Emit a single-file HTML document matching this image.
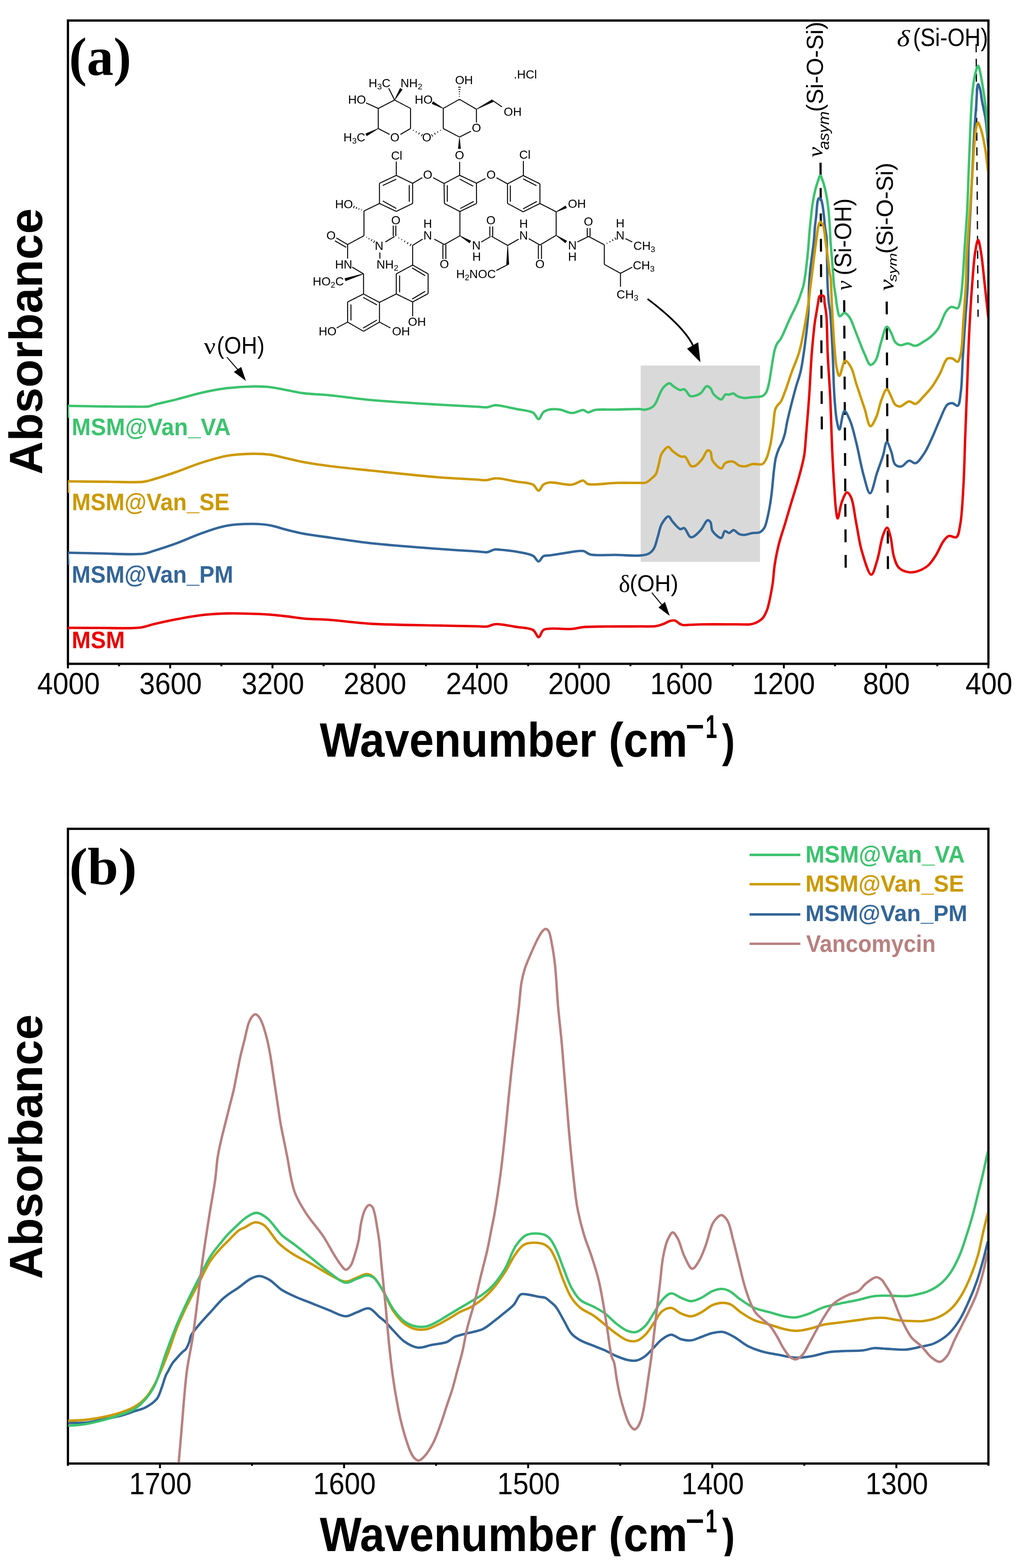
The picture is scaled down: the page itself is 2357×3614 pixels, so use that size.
<!DOCTYPE html>
<html><head><meta charset="utf-8"><title>FTIR spectra</title>
<style>html,body{margin:0;padding:0;background:#fff;}svg{display:block;}</style>
</head><body>
<svg xmlns="http://www.w3.org/2000/svg" width="2357" height="3614" viewBox="0 0 2357 3614">
<rect width="100%" height="100%" fill="#fff"/>
<rect x="1476.2" y="842.5" width="275" height="452.5" fill="#d9d9d9"/>
<clipPath id="ca"><rect x="156.3" y="50" width="2118.9" height="1477"/></clipPath>
<clipPath id="cb"><rect x="156.3" y="1913" width="2118.9" height="1457.5"/></clipPath>
<g stroke="#000" fill="none">
<path d="M1890.5 375 L1893.5 992" stroke-width="5" stroke-dasharray="29.5 29"/>
<path d="M1945 692 L1948.5 1311" stroke-width="5" stroke-dasharray="29.5 29.2"/>
<path d="M2043 695 L2045.8 1312" stroke-width="5" stroke-dasharray="29.5 29.2"/>
<path d="M2249 101.5 L2253.5 730" stroke-width="2.8" stroke-dasharray="19 15"/>
</g>
<rect x="156.5" y="47.3" width="2120.8" height="1482.7" fill="none" stroke="#000" stroke-width="5.2"/>
<path d="M156.5 1530 L156.5 1540.5M392.1 1530 L392.1 1540.5M627.8 1530 L627.8 1540.5M863.4 1530 L863.4 1540.5M1099.1 1530 L1099.1 1540.5M1334.7 1530 L1334.7 1540.5M1570.4 1530 L1570.4 1540.5M1806 1530 L1806 1540.5M2041.7 1530 L2041.7 1540.5M2277.3 1530 L2277.3 1540.5M274.3 1530 L274.3 1535.5M510 1530 L510 1535.5M745.6 1530 L745.6 1535.5M981.3 1530 L981.3 1535.5M1216.9 1530 L1216.9 1535.5M1452.5 1530 L1452.5 1535.5M1688.2 1530 L1688.2 1535.5M1923.8 1530 L1923.8 1535.5M2159.5 1530 L2159.5 1535.5" stroke="#000" stroke-width="4.5"/>
<g fill="none" stroke-width="5.6" stroke-linejoin="round" clip-path="url(#ca)">
<path d="M157 1451C157.1 1449.7 156.7 1447.6 157.3 1447C157.8 1446.5 158.5 1447 160 1447C167.6 1447 203.9 1447.4 228.6 1447.3C257.6 1447.2 300.1 1449.4 323 1446.5C336.4 1444.8 342.6 1441.3 354.4 1438.6C369.3 1435.1 387.8 1431 405.5 1427.6C424.4 1424 444.8 1420.1 464.5 1417.8C484.1 1415.5 503.7 1414.4 523.4 1413.9C543 1413.4 564.7 1414.2 582.4 1414.7C596.8 1415.1 608.6 1415.6 621.7 1416.6C634.8 1417.6 647.9 1419.1 661 1420.6C674.1 1422.1 685.8 1424.4 700.3 1425.7C718.1 1427.3 737.9 1427.2 760 1428.8C787.8 1430.8 818.7 1435.5 854 1437.6C899.2 1440.3 964.2 1440.7 1009 1441.7C1043.3 1442.5 1080 1443.1 1100 1443.5C1109.8 1443.7 1115.1 1444.9 1122 1444C1128.4 1443.2 1134.6 1439.4 1140 1438.7C1144.4 1438.1 1146.9 1438.5 1152 1439C1161.1 1439.8 1177.3 1442.8 1190 1445C1202.7 1447.2 1219.2 1446.7 1228 1452C1234.5 1455.9 1237 1468.8 1241 1468.6C1244.9 1468.4 1247.2 1455.2 1252 1452C1256.2 1449.2 1260.5 1449.6 1267 1449C1278.9 1447.9 1303.9 1450.5 1318 1449.5C1328.1 1448.8 1333.7 1446.3 1344 1445.4C1359.1 1444 1380.1 1444.3 1400 1444C1422.7 1443.7 1452.5 1444 1473 1443.8C1488 1443.6 1501.8 1444.6 1512 1443C1518.9 1441.9 1523.5 1440 1528.9 1438C1534.2 1436 1540.1 1432.2 1544.3 1431C1546.9 1430.2 1548.9 1430.1 1551 1430C1552.8 1430 1554.2 1429.8 1556 1430.5C1558.7 1431.5 1562 1435.3 1565 1437C1567.6 1438.5 1569.5 1439.9 1572.7 1440.5C1577.4 1441.4 1584 1440.2 1590.7 1440C1599.3 1439.7 1607.8 1439.2 1620 1439C1640.1 1438.7 1680 1439 1700 1439C1712 1439 1720.9 1440.1 1728.8 1438.9C1734.4 1438.1 1738.4 1436.9 1743 1434.7C1747.9 1432.3 1753.3 1429.1 1757.2 1424.7C1761.5 1419.9 1764.5 1412.8 1767.1 1406.3C1769.8 1399.6 1771.1 1392.1 1772.8 1385C1774.4 1378 1775.7 1370.9 1777 1363.8C1778.3 1356.7 1779.5 1350.8 1780.6 1342.5C1782.2 1331 1782.8 1315.5 1785 1301.3C1787.4 1285.8 1790.8 1268.7 1794.8 1253C1798.6 1237.8 1803.7 1223.9 1808.3 1208.5C1813.3 1191.8 1818.5 1174.2 1823.8 1156.3C1829.4 1137.5 1836.2 1116.8 1841.2 1098.3C1845.7 1081.5 1850.2 1065.5 1852.8 1050C1855.2 1035.9 1855.3 1025.8 1856.7 1009.3C1858.9 983.9 1862.1 944.8 1864.4 912.6C1866.6 880.4 1867.8 846.4 1870.2 816C1872.4 788.8 1876 753.1 1878 738.7C1878.8 733.1 1879.2 731.8 1880 727C1881.3 719.5 1883.4 706.1 1884.9 698C1886 692.2 1885.9 685.6 1888 683C1889.3 681.5 1891.3 681 1893 681C1894.7 681 1896.8 681.5 1898 683C1900 685.6 1899 692.2 1899.8 698C1900.9 706.1 1902.9 714.7 1904 727C1905.9 748.5 1905.6 785.7 1907 816C1908.5 847.5 1911 878.2 1912.7 912.6C1914.6 952.1 1915.7 1001.5 1917.5 1040C1919 1071.8 1920.7 1102.5 1922.4 1127.3C1923.6 1145.8 1924.5 1163.2 1926.2 1175.7C1927.3 1183.6 1928.3 1195 1930 1195C1932.4 1195.1 1935.6 1167.1 1939.8 1156.3C1943.1 1147.9 1947.4 1135.4 1951.4 1135C1954.5 1134.7 1958.2 1140.8 1961 1146.7C1966.5 1158.3 1968.6 1184.6 1972.6 1204.7C1976.9 1226.4 1979.9 1251.5 1986.2 1272.3C1991.9 1291.1 2001.1 1324.5 2007.4 1324.5C2012.4 1324.5 2016.9 1304.3 2021 1291.6C2026.3 1275.2 2029.4 1247 2034.5 1233.6C2037.5 1225.8 2041.2 1216 2044 1216.2C2047.1 1216.4 2049.7 1229.5 2052 1238.2C2055.2 1250.3 2055.6 1269.8 2059.4 1282.4C2062.5 1292.6 2065 1302.7 2071.2 1308.8C2077 1314.6 2087 1317.9 2094.7 1319C2101.7 1320 2108.4 1318.5 2115.3 1316.2C2123.1 1313.6 2132 1308.9 2138.8 1303C2145.9 1296.8 2150.9 1288.1 2156.5 1279.4C2162.7 1269.7 2168.1 1254.8 2174 1247C2178 1241.7 2181.1 1236.8 2185.9 1235.3C2190.9 1233.7 2199.2 1240.9 2203.5 1238.2C2209.2 1234.7 2210 1221.4 2212.4 1208.8C2216.5 1187.4 2217.8 1152.1 2219.7 1120.6C2221.9 1084.2 2222.5 1042.2 2224 1003C2225.5 963.8 2227 924.5 2228.5 885.3C2230 846.1 2231 806.8 2233 767.6C2235 728.4 2237.6 684.1 2240.3 650C2242.4 623.6 2244 597.8 2247 580C2248.9 568.8 2251.3 553 2253.5 553C2255.7 553 2258 568.8 2260 580C2263.2 597.8 2265.5 625.7 2268.2 650C2271.1 676.2 2274.1 704.7 2277 732" stroke="#ea0000"/>
<path d="M157 1302C157.1 1292.7 155.1 1276.2 157.3 1274C158 1273.3 158.5 1274 160 1274C167.6 1274.1 203.5 1275.1 228.6 1275.5C259.3 1276 308.8 1279.3 330.8 1276.3C341.6 1274.8 345.1 1272.5 354.4 1269.6C368.2 1265.4 388 1259.1 405.5 1252.7C424.6 1245.7 444.7 1236 464.5 1229.1C484 1222.3 503.6 1215 523.4 1211.4C542.9 1207.9 564.7 1207.4 582.4 1207.5C596.8 1207.6 608.7 1208.4 621.7 1210.7C634.9 1213 647.9 1218 661 1221.3C674.1 1224.6 685.8 1227.6 700.3 1230.3C718.1 1233.6 737.8 1235.9 760 1239C787.8 1242.9 818.7 1248.1 854 1252C899.2 1257 964.2 1261.6 1009 1265C1043.3 1267.6 1080 1269.6 1100 1271C1109.8 1271.7 1115.1 1273.6 1122 1272.7C1128.4 1271.9 1134.5 1267.3 1140 1266.5C1144.3 1265.9 1146.9 1266.6 1152 1267C1161.1 1267.7 1177.4 1269.3 1190 1271.6C1202.7 1273.9 1219.1 1276 1228 1281C1234.1 1284.4 1236.9 1294.1 1241 1294C1244.9 1293.9 1247.6 1284.3 1252 1282C1256.3 1279.8 1261 1280.8 1267 1280C1275.9 1278.7 1288.2 1276.6 1300 1275C1313.6 1273.2 1333.2 1268.1 1344 1270C1350.9 1271.2 1352.7 1276.2 1360 1278C1373.4 1281.3 1400.5 1278.6 1420 1279C1438.7 1279.4 1461.1 1281.7 1474.8 1280.4C1483.2 1279.6 1489.6 1278.9 1495 1275.9C1499.8 1273.3 1503.3 1269.7 1506.4 1264.6C1510.6 1257.9 1512.5 1246.7 1515.4 1237.5C1518.5 1227.9 1519.8 1216.4 1524.4 1208.2C1528.4 1201 1535.8 1190.1 1540.2 1190.2C1543.6 1190.3 1545.4 1197.3 1549 1201.4C1553.9 1206.9 1561.9 1218 1567.3 1219.5C1570.5 1220.4 1573.4 1216.1 1576.3 1217.2C1581.1 1219 1585.6 1235.2 1590 1237.5C1592.3 1238.7 1594.1 1238.5 1596.6 1237.5C1601.4 1235.7 1609.1 1227.8 1614.6 1221.7C1620.5 1215.2 1625.9 1200 1630.4 1199.2C1632.8 1198.8 1635.3 1201.2 1637 1203.7C1639.8 1207.8 1638 1218.2 1641.7 1224C1645.8 1230.5 1657.2 1240.9 1662 1239.8C1666 1238.9 1666.5 1225.3 1670 1224C1672.8 1223 1676.7 1228.8 1680 1228.5C1683.4 1228.2 1686.5 1221.7 1690 1221.7C1694 1221.8 1698.3 1228.9 1702.6 1230.8C1706.3 1232.4 1709.7 1233.1 1714 1233C1719.7 1232.9 1727.7 1229.5 1734 1228.5C1739.6 1227.6 1745.4 1229.1 1750 1227C1754.4 1225 1758.2 1221 1761.1 1216.4C1764.6 1210.7 1766 1202.1 1768 1194.2C1770.2 1185.5 1772 1175.7 1773.6 1166.4C1775.2 1157.2 1776.5 1147.9 1777.7 1138.7C1778.8 1129.5 1779.6 1120.2 1780.5 1111C1781.4 1101.7 1782.2 1092.4 1783.3 1083.2C1784.5 1073.9 1785.4 1064 1787.4 1055.5C1789.2 1048 1791.8 1040.9 1794.4 1034.7C1796.5 1029.5 1799.2 1026 1801.3 1020.8C1803.9 1014.6 1806.3 1007.6 1808.3 1000C1810.6 991.1 1811.3 982.7 1814 970.6C1818.4 950.9 1827.7 914.6 1833.5 893.3C1837.7 878.1 1841.6 869.8 1845 854.6C1849.7 833.4 1853.7 801.3 1856.7 777.3C1859.3 756.5 1861.3 738.5 1862.5 719C1863.7 699.4 1863.2 676.7 1864 660C1864.6 647.7 1865.2 639 1866.2 628C1867.3 616.3 1869 604 1870.5 592C1872 580 1873.9 567.6 1875.1 556C1876.2 545.3 1876.5 535 1877.4 525C1878.3 515.7 1879.6 507 1880.5 498C1881.4 489 1882 477.6 1882.8 471C1883.3 467.2 1883.4 464.5 1884.2 462C1884.8 460 1885.4 457.7 1886.5 457C1887.3 456.5 1888.6 456.5 1889.5 457C1890.6 457.6 1891.5 459.3 1892.3 461C1893.4 463.5 1894 466.8 1894.8 471C1896.1 477.8 1897.4 489 1898.4 498C1899.4 507 1899.9 516.5 1901 525C1902 532.7 1903.6 538 1904.4 547C1905.6 560.8 1905.2 582.6 1905.6 600C1905.9 616.9 1905.8 633.3 1906.5 650C1907.2 666.7 1908.4 687.2 1909.8 700C1910.7 708 1911.8 710.4 1912.7 719.3C1914.8 739.2 1916.9 783.8 1918.5 816C1920.1 848.2 1920.4 884.5 1922.4 912.6C1923.9 934.4 1925.4 956.5 1928.2 970.6C1929.8 978.9 1931.8 990 1934 990C1937.3 990 1940.7 948 1945.6 947.4C1949.4 946.9 1955 961.2 1959 970.6C1964.4 983.5 1968 1000.9 1972.6 1019C1978.3 1041.7 1983.8 1074.8 1990 1096.3C1994.6 1112.2 1999.6 1137 2004.5 1137C2009.9 1137 2015.8 1103.9 2021 1088.7C2025.7 1075.1 2030.7 1062.2 2034.5 1050C2037.9 1039.1 2039.7 1019.3 2043.2 1019C2046.2 1018.8 2050.4 1033 2053.5 1041C2056.9 1050 2057.1 1065.3 2062.4 1070.6C2066.1 1074.3 2072.1 1075.9 2077 1075C2082.9 1074 2088.9 1062.6 2094.7 1061.8C2099.6 1061.1 2104.5 1068.8 2109.4 1067.6C2116.3 1065.9 2123.9 1053.1 2130 1044C2136.8 1033.8 2141.9 1021.1 2147.6 1008.8C2153.7 995.7 2159.2 980.7 2165.3 967.6C2171 955.3 2176.4 937.7 2183 932.4C2186.7 929.4 2190.9 929 2194.7 929.4C2198.7 929.8 2203.5 936.7 2206.5 935.3C2211.3 933 2211.9 916.1 2213.8 903C2216.6 883 2216.6 852.9 2218.2 826.5C2219.9 798.1 2222 767.6 2224 738.2C2226 708.8 2228.8 678.6 2230 650C2231.2 622.9 2230.6 597.8 2231.5 570.6C2232.5 541.9 2234.5 511.5 2236 482C2237.5 452.6 2238.9 423.3 2240.3 394C2241.8 364.7 2243.1 332.4 2244.7 306C2246 284.4 2247.5 266.1 2249 247C2250.4 228.9 2250.9 194.4 2253.5 194C2254.7 193.8 2256.7 200.4 2258 205C2260 211.9 2260.6 221.9 2262.4 232C2264.7 244.9 2268.7 259.9 2271 276C2273.8 295.3 2275 318.7 2277 340" stroke="#336699"/>
<path d="M157 1136C157.1 1127.2 155.1 1111.6 157.3 1109.5C158 1108.8 158.5 1109.5 160 1109.5C168.8 1109.5 219.4 1110.3 248.3 1110.4C276.3 1110.5 311.7 1112.7 330.8 1110.4C341.2 1109.1 345.1 1107.2 354.4 1104.5C368.2 1100.5 387.9 1094.1 405.5 1088C424.5 1081.4 444.7 1072.7 464.5 1066.4C484 1060.2 503.6 1054 523.4 1050.6C542.9 1047.2 564.7 1046.2 582.4 1045.9C596.8 1045.7 608.7 1046.2 621.7 1047.9C634.9 1049.7 647.9 1053.6 661 1056.5C674.1 1059.4 685.8 1062.5 700.3 1065.2C718.1 1068.5 737.8 1071.3 760 1074.2C787.8 1077.8 818.8 1080.8 854 1084.5C899.2 1089.2 964.1 1096.4 1009 1100C1043.3 1102.8 1080.6 1104.3 1100 1105.5C1109.1 1106 1113.4 1107.2 1120 1106.7C1126.7 1106.2 1134.2 1103.1 1140 1102.6C1144.5 1102.2 1146.9 1102.4 1152 1103C1161.1 1104 1177.3 1107.7 1190 1110C1202.7 1112.3 1219.2 1112.1 1228 1117C1234.2 1120.4 1236.9 1131.2 1241 1131C1244.9 1130.8 1247.5 1120.2 1252 1117C1256.3 1114 1260.4 1112.7 1267 1112C1278.9 1110.7 1304 1118.7 1318 1117C1328.3 1115.7 1337.6 1106.7 1344 1107.7C1348.4 1108.4 1348.7 1113.8 1354 1115.5C1366 1119.4 1399.2 1113.4 1420 1113C1438.6 1112.6 1460.7 1113.2 1473 1113C1479.5 1112.9 1483.3 1114 1488 1112.4C1493 1110.6 1498 1105.7 1502 1102.2C1505.5 1099.2 1508.6 1097.1 1511 1093C1514.3 1087.4 1515.5 1078.3 1517.7 1070.6C1520 1062.6 1520.4 1052.7 1524.4 1045.8C1528.1 1039.4 1535.5 1030 1540 1030C1543.4 1030 1545.2 1035.9 1549 1039C1554.3 1043.3 1563.8 1050.9 1569.5 1052.6C1572.9 1053.6 1575.6 1051 1578.5 1052.6C1583.3 1055.3 1587.2 1071.3 1592 1074C1594.9 1075.6 1597.8 1075.2 1601 1074C1605.9 1072.1 1612.2 1065.1 1617 1059.4C1622.1 1053.2 1626.2 1039.2 1630.4 1038C1632.7 1037.4 1635.3 1039.1 1637 1041.3C1639.9 1045 1638.1 1055.5 1641.7 1061.6C1645.8 1068.5 1656.8 1080.3 1662 1079.7C1665.9 1079.3 1666.8 1070 1671 1067.3C1675.6 1064.4 1683.6 1062.8 1689 1063.9C1694.1 1064.9 1697.9 1071.1 1702.6 1072.9C1706.9 1074.6 1711.2 1075.3 1716 1075C1721.6 1074.6 1727.6 1070.5 1734 1069.5C1741.1 1068.4 1751.3 1072.3 1756.7 1069.5C1761.2 1067.2 1763.1 1062.4 1765.7 1057C1769.5 1049.1 1772.3 1037 1774.8 1025.5C1777.8 1011.9 1779.6 994.6 1781.5 980.4C1783.2 967.7 1783.6 952.2 1786 944.3C1787.3 940.2 1788.5 938.2 1790.5 935.3C1792.7 932.1 1796.1 930.3 1798.7 926.2C1802.8 919.8 1806.2 909 1810 899C1814.6 886.9 1818.8 872.4 1823.8 858.5C1829.2 843.5 1836.4 828.3 1841.2 812C1846.2 794.8 1849.3 776.4 1852.8 758C1856.4 739.1 1860 717.6 1862.5 700C1864.6 685.5 1865.7 672.6 1867.3 660C1868.7 648.7 1870 639 1871.4 628C1872.8 616.4 1874.2 604 1875.7 592C1877.2 580 1878.7 568 1880.4 556C1882.1 544 1884 526.9 1885.8 520C1886.5 517.1 1887.1 515.6 1888 514C1888.7 512.8 1889.6 511 1890.4 511C1891.2 511 1892.1 512.8 1893 514C1894.2 515.6 1895.6 517 1896.7 520C1899.2 526.8 1900.4 544 1902.1 556C1903.8 568 1905.5 580 1907.1 592C1908.7 604 1910.2 619.2 1911.5 628C1912.3 633.1 1913.1 634.4 1913.7 640C1915.1 652.3 1915.4 677.6 1916.6 700C1918.1 728.4 1920.1 769.1 1922.4 796.7C1924.1 817.4 1925.2 838.4 1928.2 850.8C1929.8 857.6 1931.6 866.2 1934 866.2C1937.5 866.2 1942.1 832.4 1947.5 831.5C1951.5 830.8 1957.2 840.2 1961 847C1966.2 856.2 1968.2 870 1972.6 883.6C1978.2 900.7 1986.1 924 1992 941.6C1996.9 956.3 2000.2 981.5 2005.5 982.2C2009.5 982.7 2015.1 969.4 2019 961C2023.9 950.3 2026.1 933.7 2030.6 922.3C2034.4 912.8 2039.1 897.1 2043.2 897C2046.7 896.9 2050.3 908.8 2053.5 914.7C2056.7 920.6 2058.4 928.8 2062.4 932.4C2065.6 935.3 2069.7 937.1 2074 936.8C2080 936.3 2088.3 925.4 2094.7 925C2099.9 924.6 2104.6 931.8 2109.4 930.9C2115.4 929.8 2121.1 920.8 2127 914.7C2133.8 907.8 2141.3 899.8 2147.6 891.2C2154.2 882.2 2159.6 872.2 2165.3 861.8C2171.4 850.7 2176.3 830.6 2183 826.5C2186.7 824.2 2190.9 825.4 2194.7 826.5C2198.8 827.7 2203.4 834.8 2206.5 833.8C2210.2 832.5 2211.8 823.4 2213.8 814.7C2217.6 797.9 2217.8 764.6 2219.7 738.2C2221.7 709.9 2224.4 675.3 2225.6 650C2226.5 631 2226.1 619 2227 600C2228.2 574.7 2231 541.2 2233 511.8C2235 482.4 2236.9 452.9 2238.8 423.5C2240.8 394 2242.6 358.7 2244.7 335C2246.1 319 2246.8 304.5 2249 295C2250.3 289.5 2251.9 282.5 2253.5 282.4C2254.9 282.3 2256.6 288.4 2258 292C2259.6 296.2 2260.9 300 2262.4 306C2265.1 316.5 2268.6 334.8 2271 350C2273.5 366.1 2275 383.3 2277 400" stroke="#cc9900"/>
<path d="M156.9 963.5C157 954.2 154.9 937.7 157.2 935.5C157.9 934.8 158.4 935.5 160 935.5C167.7 935.6 205 936.4 228.6 936.7C253.9 937 286.2 937.5 307.2 937.4C321.3 937.3 333.2 938.2 342.6 936.7C349 935.7 351.6 933.8 358.3 932C369.8 928.9 388.9 925.1 405.5 920.9C424.1 916.2 444.8 909.6 464.5 905.2C484.1 900.8 503.7 897 523.4 894.6C543 892.2 564.7 890.9 582.4 890.7C596.8 890.5 608.6 890.8 621.7 892.2C634.9 893.6 647.9 896.9 661 899.3C674.1 901.7 685.8 904.5 700.3 906.4C718.1 908.7 737.8 909 760 911.1C787.9 913.8 819.2 918.8 854.6 922C899.8 926.1 964.3 929.8 1009 932.5C1043.3 934.6 1079.8 936.4 1100 937.5C1110.1 938 1115.7 939.4 1122.7 938.7C1128.9 938 1134.7 934.5 1140 934C1144.3 933.6 1146.9 934.3 1152 935C1161.1 936.3 1177.3 940.1 1190 942.8C1202.7 945.5 1219.2 945.8 1228 951C1234.3 954.7 1237 966.2 1241 966C1245 965.8 1247.4 953.7 1252 950C1256.2 946.6 1261.3 944.9 1267 943.8C1273.7 942.5 1282 942.9 1290 944C1299.1 945.3 1309.3 952 1318.6 952C1327.3 952 1337.5 944.3 1344 945C1348.4 945.5 1350.7 950.2 1354.6 950.5C1359.2 950.8 1363.3 946.2 1370 945C1381.8 942.8 1403.1 944.4 1420 944C1437.4 943.6 1461.3 942.3 1473 942.8C1478.8 943.1 1481.4 944.9 1486 944.3C1491.6 943.6 1499.7 940.8 1504 937.6C1507.3 935.1 1508.6 932.5 1511 928.5C1514.6 922.4 1518.5 910.2 1522 903.7C1524.4 899.1 1525.9 895.8 1529 892.5C1532.5 888.9 1538.5 883.3 1542.5 883.4C1545.8 883.5 1548 887.9 1551.5 890.2C1555.9 893.1 1562.4 898.3 1567 899C1570.3 899.5 1573.6 896.4 1576 897C1578.1 897.5 1579.2 899.6 1581 901.5C1583.7 904.3 1586.6 911.1 1590 912.8C1592.7 914.1 1595.7 913.5 1599 912.8C1603.6 911.8 1609.9 909.5 1614.6 906C1619.7 902.2 1623.6 891.1 1628 890.2C1631 889.6 1634.5 892.2 1637 894.7C1640.1 897.8 1640.4 904.3 1644 908.3C1648.3 913.1 1657.3 921.4 1662 920.7C1665.8 920.1 1667.6 911.1 1671 909.4C1673.7 908.1 1676.9 909.8 1680 909.4C1683.3 909 1687 906.4 1690 907C1693 907.6 1694.7 911.2 1698 912.8C1702.3 914.9 1708.3 916.8 1714 917.3C1720.2 917.9 1727.1 916.2 1734 915.5C1741.3 914.7 1751.2 915.5 1756.7 912.8C1760.8 910.8 1763.3 907.9 1765.7 903.7C1769.1 897.8 1770.6 887.9 1772.5 879C1774.8 868.6 1776 856.7 1778 845C1780.1 832.5 1782.2 816.2 1785 806.3C1786.8 799.9 1788.5 795.3 1791 790.9C1793.2 787.1 1795.9 785.8 1798.7 781.2C1804.2 772.2 1811.4 752.8 1818 738.7C1824.5 724.6 1832.8 709.1 1838 696.6C1842.1 686.8 1845.2 676.8 1847.5 670C1848.9 665.9 1849.7 664.1 1850.7 660C1852.2 653.9 1853.7 645 1854.9 637C1856.2 628.4 1857.2 619.7 1858.3 610C1859.6 598.9 1861 586 1862.1 574C1863.2 562 1863.7 550.3 1864.8 538C1865.9 525 1867.5 510 1868.8 498C1869.9 488.1 1870.6 480 1872 471C1873.4 462 1874.9 453 1877 444C1879.1 434.9 1882.1 424.2 1884.7 417C1886.5 412 1888.2 404.5 1890 404.5C1891.8 404.5 1893.9 411.9 1895.7 417C1898.3 424.2 1900.9 435 1902.8 444C1904.7 453 1906.1 462 1907.3 471C1908.5 480 1909.2 489 1910 498C1910.8 507 1911.4 515.7 1912 525C1912.6 535 1912.8 545.3 1913.5 556C1914.3 567.6 1915.5 580 1916.5 592C1917.4 604 1918.3 616.4 1919.2 628C1920.1 639 1920.7 650 1921.9 660C1922.9 668.9 1924.6 676.9 1925.7 685C1926.8 692.6 1927.1 699.7 1928.6 707C1930.2 714.4 1931.4 727.8 1935 729C1937.7 729.9 1942.1 721.2 1945.6 721.3C1949.4 721.4 1953.4 726.1 1957 731C1962.8 738.9 1967.2 754.6 1972.6 767.7C1978.8 782.7 1985.7 802.7 1992 816C1996.6 825.8 2000.5 840 2005.5 841C2009.1 841.7 2013.6 836.6 2017 831.5C2023 822.6 2025.9 800.8 2030.6 787C2034.7 774.8 2038.6 753.6 2043.2 753C2046.4 752.6 2050.4 762.1 2053.5 767.6C2056.9 773.7 2058.3 783.4 2062.4 788.2C2065.6 791.9 2069.5 794.8 2074 795.6C2079.1 796.5 2085.9 791.6 2091.8 791.8C2097.7 792 2103.6 797.5 2109.4 797C2115.4 796.5 2121 791.8 2127 788.2C2133.8 784.1 2141.6 779 2147.6 773.5C2153.3 768.2 2157.7 763.4 2162.4 756C2168.7 746 2173.8 725.9 2180 717.6C2183.8 712.5 2187.3 708.6 2191.8 707.4C2196.2 706.2 2203.1 712.2 2206.5 710.3C2210.2 708.2 2210.8 700.6 2212.4 694C2214.7 684.6 2215.4 673.2 2216.8 658.8C2219 636.1 2220.7 600 2222.6 570.6C2224.6 541.1 2226.8 513.6 2228.5 482C2230.4 445.7 2231.2 406 2233 364.7C2235 318.4 2236.6 253.1 2240 217.6C2242 197.3 2244 182.1 2247 170C2248.9 162.3 2251.6 151.5 2253.5 151.5C2255.2 151.5 2256.7 159.9 2258 165C2259.7 171.6 2260.8 178.5 2262.4 188C2264.9 203.1 2268.6 226.2 2271 247C2273.6 270 2275 295.7 2277 320" stroke="#3cc36e"/>
</g>
<text transform="translate(85.73 1599.6) scale(0.91 1)" font-family="'Liberation Sans', Arial, sans-serif" font-size="71.25">4000</text>
<text transform="translate(320.89 1599.6) scale(0.91 1)" font-family="'Liberation Sans', Arial, sans-serif" font-size="71.25">3600</text>
<text transform="translate(556.54 1599.6) scale(0.91 1)" font-family="'Liberation Sans', Arial, sans-serif" font-size="71.25">3200</text>
<text transform="translate(791.78 1599.6) scale(0.91 1)" font-family="'Liberation Sans', Arial, sans-serif" font-size="71.25">2800</text>
<text transform="translate(1027.42 1599.6) scale(0.91 1)" font-family="'Liberation Sans', Arial, sans-serif" font-size="71.25">2400</text>
<text transform="translate(1263.07 1599.6) scale(0.91 1)" font-family="'Liberation Sans', Arial, sans-serif" font-size="71.25">2000</text>
<text transform="translate(1497.91 1599.6) scale(0.91 1)" font-family="'Liberation Sans', Arial, sans-serif" font-size="71.25">1600</text>
<text transform="translate(1733.55 1599.6) scale(0.91 1)" font-family="'Liberation Sans', Arial, sans-serif" font-size="71.25">1200</text>
<text transform="translate(1988.16 1599.6) scale(0.91 1)" font-family="'Liberation Sans', Arial, sans-serif" font-size="71.25">800</text>
<text transform="translate(2224.45 1599.6) scale(0.91 1)" font-family="'Liberation Sans', Arial, sans-serif" font-size="71.25">400</text>
<text transform="translate(736.8 1744.1) scale(0.92 1)" font-family="'Liberation Sans', Arial, sans-serif" font-size="110.98" font-weight="bold">Wavenumber (cm</text><text transform="translate(1579.66 1699.18) scale(1.01 1)" font-family="'Liberation Sans', Arial, sans-serif" font-size="72.73" font-weight="bold">−</text><text transform="translate(1625.74 1700.9) scale(0.63 1)" font-family="'Liberation Sans', Arial, sans-serif" font-size="75.49" font-weight="bold">1</text><text transform="translate(1663.48 1744.04) scale(0.85 1)" font-family="'Liberation Sans', Arial, sans-serif" font-size="104.88" font-weight="bold">)</text>
<text transform="translate(96.6 1093.64) rotate(-90) scale(0.99 1)" font-family="'Liberation Sans', Arial, sans-serif" font-size="107.2" font-weight="bold">Absorbance</text>
<text transform="translate(158.95 173.39) scale(0.99 1)" font-family="'Liberation Serif', 'Times New Roman', serif" font-size="124.3" font-weight="bold">(a)</text>
<text transform="translate(165.35 1003.2) scale(0.96 1)" font-family="'Liberation Sans', Arial, sans-serif" font-size="54.84" font-weight="bold" fill="#3cc36e">MSM@Van_VA</text>
<text transform="translate(165.38 1175.5) scale(0.93 1)" font-family="'Liberation Sans', Arial, sans-serif" font-size="56" font-weight="bold" fill="#cc9900">MSM@Van_SE</text>
<text transform="translate(165.37 1342.5) scale(0.93 1)" font-family="'Liberation Sans', Arial, sans-serif" font-size="56" font-weight="bold" fill="#336699">MSM@Van_PM</text>
<text transform="translate(165.35 1494.3) scale(0.94 1)" font-family="'Liberation Sans', Arial, sans-serif" font-size="55.71" font-weight="bold" fill="#ea0000">MSM</text>
<text transform="translate(469.85 815.47) scale(1.13 1)" font-family="'Liberation Serif', 'Times New Roman', serif" font-size="53.19">ν</text>
<text transform="translate(499.62 815.4) scale(0.92 1)" font-family="'Liberation Sans', Arial, sans-serif" font-size="55.27">(OH)</text>
<text transform="translate(1425.63 1364.25) scale(1.01 1)" font-family="'Liberation Serif', 'Times New Roman', serif" font-size="54.65">δ</text>
<text transform="translate(1450.85 1362.8) scale(0.97 1)" font-family="'Liberation Sans', Arial, sans-serif" font-size="53.38">(OH)</text>
<text transform="translate(2066.27 105.78) scale(1.23 1)" font-family="'Liberation Serif', 'Times New Roman', serif" font-size="52.11" font-style="italic">δ</text>
<text transform="translate(2103.51 106.3) scale(0.9 1)" font-family="'Liberation Sans', Arial, sans-serif" font-size="56.73">(Si-OH)</text>
<text transform="translate(1895.7 257.95) rotate(-90) scale(0.99 1)" font-family="'Liberation Sans', Arial, sans-serif" font-size="54.05">(Si-O-Si)</text>
<text transform="translate(1910 345.34) rotate(-90) scale(1.05 1)" font-family="'Liberation Sans', Arial, sans-serif" font-size="35.35" font-style="italic">asym</text>
<text transform="translate(1895.19 362.71) rotate(-90) scale(1.05 1)" font-family="'Liberation Serif', 'Times New Roman', serif" font-size="51.49" font-style="italic">ν</text>
<text transform="translate(1961.4 634.79) rotate(-90) scale(0.96 1)" font-family="'Liberation Sans', Arial, sans-serif" font-size="54.62">(Si-OH)</text>
<text transform="translate(1961.67 669.56) rotate(-90) scale(0.96 1)" font-family="'Liberation Serif', 'Times New Roman', serif" font-size="52.98" font-style="italic">ν</text>
<text transform="translate(2057 585.07) rotate(-90) scale(1.01 1)" font-family="'Liberation Sans', Arial, sans-serif" font-size="53.48">(Si-O-Si)</text>
<text transform="translate(2066 649.49) rotate(-90) scale(1.35 1)" font-family="'Liberation Sans', Arial, sans-serif" font-size="26.79" font-style="italic">sym</text>
<text transform="translate(2058.89 670.49) rotate(-90) scale(1.16 1)" font-family="'Liberation Serif', 'Times New Roman', serif" font-size="51.28" font-style="italic">ν</text>
<g stroke="#000" stroke-width="2.2" fill="none">
<path d="M522.8 823.1 L548 852"/>
<path d="M1501.8 1366 L1525 1394"/>
<path d="M1492 689 C1524 712.8 1579.2 758.7 1597 797" stroke-width="4"/>
</g>
<g fill="#000">
<polygon points="566.6,877.9 538.9,857.3 555.7,845.7"/>
<polygon points="1543,1419.5 1517.3,1400.2 1532,1387.3"/>
<polygon points="1613.8,835.1 1583,803.8 1608.6,788.7"/>
</g>
<g stroke="#000" stroke-width="2.2" stroke-linecap="butt" fill="none">
<path d="M909.2 230.6L871.5 249.9M871.5 249.9L871.5 296.3M871.5 296.3L897.6 309.8M922.7 309.8L945.9 296.3M945.9 296.3L945.9 249.9M945.9 249.9L909.2 230.6M909.2 230.6L895.6 203.5M871.5 249.9L843.5 237.3M1021.3 296.3L1021.3 249.9M1021.3 249.9L1058.6 228.9M1058.6 228.9L1097.7 251.7M1097.7 251.7L1097.7 282.5M1085 302.4L1058.6 315.9M1058.6 315.9L1021.3 296.3M1135.4 231.8L1156.6 246.3M913 404.2L950.7 422.5M950.7 422.5L950.7 468.9M950.7 468.9L913 487.3M913 487.3L874.3 468.9M874.3 468.9L874.3 422.5M874.3 422.5L913 404.2M882 427.4L913 412.9M942.9 426.4L942.9 465M882 463.1L913 480.5M913 372.6L913 404.2M950.7 422.5L973 409.5M998 409.5L1023.2 422.9M874.3 468.9L838.6 486.3M1059 404L1097.7 422.2M1097.7 422.2L1098 469M1098 469L1059.6 487.4M1059.6 487.4L1023.8 469M1023.8 469L1023.2 422.9M1023.2 422.9L1059 404M1059 412.6L1090 429M1030.6 427L1030.6 465M1060.5 480.6L1091.5 464.2M1059 373L1059 404M1097.7 422.2L1118.5 411.5M1144 409.7L1169.3 423.8M1059.6 487.4L1059.6 543.4M1205.4 404.5L1244 423.8M1244 423.8L1244 468.9M1244 468.9L1205.4 488.2M1205.4 488.2L1169.3 468.9M1169.3 468.9L1169.3 423.8M1169.3 423.8L1205.4 404.5M1205.4 412.2L1236 428M1175.8 427.7L1175.8 465M1205.4 481.2L1237 464.2M1205.9 371L1205.9 404.5M1244 468.9L1281.4 488.2M838.6 486.3L838.6 543.3M838.6 543.3L800.9 563.6M800.9 563.6L775 548.5M797.5 570L771.6 555M800.9 563.6L800.9 596M875.3 582L875.3 596M887.8 557.8L909.1 545M912 544.3L912 520M906 544.3L906 520M950.7 565.6L973.9 551M1000.6 551.2L1023.8 563.7M1020.4 563.7L1020.4 597M1027.2 563.7L1027.2 597M1023.8 563.7L1059.6 543.4M1108.8 557.9L1130.1 545.4M1128.6 544.4L1128.6 522M1135.2 544.4L1135.2 522M1132 544.4L1169.7 565.7M1169.7 610L1143.6 623.6M1169.7 565.7L1194.9 551.2M1218.3 550L1244 564.7M1240.4 564.7L1240.4 597M1247.6 564.7L1247.6 597M1244 564.7L1281.4 542.4M1281.4 542.4L1281.4 488.2M1330.4 557.8L1356.2 545M1353 545L1353 525.5M1359.5 545L1359.5 525.5M1356.2 545L1392.3 564.3M1441.2 550L1456.7 557.8M1392.3 564.3L1392.3 609.4M1392.3 609.4L1429.6 630M1429.6 630L1456.7 615.8M1429.6 630L1429.6 661M950.7 565.6L950.7 610.9M913 677.6L913 631.2M913 631.2L950.7 610.9M950.7 610.9L986.4 631.2M986.4 631.2L986.4 676.7M986.4 676.7L950.7 696M950.7 696L913 677.6M920.7 635L920.7 673.8M949.7 617.5L979.7 635.5M949.7 689.2L979.7 671.5M950.7 696L950.7 729M837.6 677.6L874.3 697M874.3 697L874.3 742.4M874.3 742.4L837.6 763.6M837.6 763.6L800.9 742.4M800.9 742.4L800.9 696M800.9 696L837.6 677.6M836.6 685.4L868.5 702.8M808.6 701.8L808.6 738.5M836.6 756.2L868.5 737.6M837.6 677.6L837.6 631.2M837.6 631.2L811.5 615.8M874.3 697L913 677.6M800.9 742.4L775.7 755.9M874.3 742.4L899.4 755.9"/>
<path d="M951.9 301 L952.9 299.2M958.2 305.2 L959.7 302.6M964.3 309.6 L966.6 305.8M970.5 314.1 L973.5 308.9M1014.3 299.4 L1015.4 301.1M1007.6 302.9 L1009.2 305.4M1000.8 306.2 L1003.1 310M993.9 309.4 L997.1 314.6M1059.6 221.8 L1057.6 221.8M1059.8 216.6 L1057.4 216.6M1060.4 211.4 L1056.8 211.4M1061 206.2 L1056.2 206.2M1061.6 201 L1055.6 201M833.2 483 L832.5 484.9M827.6 480.3 L826.5 483M822.1 477.2 L820.4 481.4M816.6 474.2 L814.4 479.8M843.9 547.6 L845 545.9M849.5 551.4 L851.1 548.9M855 555.5 L857.3 551.6M860.5 559.6 L863.5 554.4M918.3 549.2 L919.3 547.5M925 553.4 L926.2 551.3M931.5 558 L933.3 554.9M938 562.5 L940.4 558.4M944.5 567.1 L947.5 561.9M1399.2 561.6 L1398.2 559.9M1405.9 558.5 L1404.4 555.8M1412.7 555.5 L1410.5 551.6M1419.5 552.6 L1416.5 547.4" stroke-width="1.8"/>
</g>
<g fill="#000" stroke="none">
<polygon points="909.7,230.9 927.4,206.2 921.8,202.8 908.7,230.3"/>
<polygon points="871.2,295.8 842,307.9 845,313.7 871.8,296.8"/>
<polygon points="1021.6,249.4 997.7,233.5 994.7,239.3 1021,250.4"/>
<polygon points="1098,252.2 1136.9,234.7 1133.9,228.9 1097.4,251.2"/>
<polygon points="1058,317.8 1055.3,343 1061.8,343 1059.2,317.8"/>
<polygon points="837.4,630.6 793.9,641.5 796.1,648.1 837.8,631.8"/>
<polygon points="1059.3,543.9 1082,560.7 1085.4,555.1 1059.9,542.9"/>
<polygon points="1169.1,565.7 1166.5,610 1173,610 1170.3,565.7"/>
<polygon points="1281.7,488.7 1306.1,479.5 1303.1,473.7 1281.1,487.7"/>
<polygon points="1281.1,542.9 1302.8,560.5 1306.4,555.1 1281.7,541.9"/>
</g>
<g font-family="'Liberation Sans', Arial, sans-serif" font-size="27.5" fill="#000">
<text x="849.3" y="200.6" text-anchor="start">H<tspan dy="5" font-size="19">3</tspan><tspan dy="-5">C</tspan></text>
<text x="922.7" y="200.6" text-anchor="start">NH<tspan dy="5" font-size="19">2</tspan></text>
<text x="801.9" y="239.3" text-anchor="start">HO</text>
<text x="791.3" y="326.2" text-anchor="start">H<tspan dy="5" font-size="19">3</tspan><tspan dy="-5">C</tspan></text>
<text x="909.6" y="326.2" text-anchor="middle">O</text>
<text x="983.3" y="326.2" text-anchor="middle">O</text>
<text x="955.6" y="239.3" text-anchor="start">HO</text>
<text x="1048.4" y="194.1" text-anchor="start">OH</text>
<text x="1160.5" y="266.6" text-anchor="start">OH</text>
<text x="1097.7" y="304.3" text-anchor="middle">O</text>
<text x="1058.8" y="367.3" text-anchor="middle">O</text>
<text x="1183.7" y="180.6" text-anchor="start">.HCl</text>
<text x="914" y="367.8" text-anchor="middle">Cl</text>
<text x="985.5" y="411.9" text-anchor="middle">O</text>
<text x="1131.5" y="411.6" text-anchor="middle">O</text>
<text x="1209.3" y="366" text-anchor="middle">Cl</text>
<text x="771.9" y="479.6" text-anchor="start">HO</text>
<text x="762.7" y="552" text-anchor="middle">O</text>
<text x="771.9" y="618.7" text-anchor="start">HN</text>
<text x="873.5" y="575.5" text-anchor="middle">N</text>
<text x="867.5" y="618.7" text-anchor="start">NH<tspan dy="5" font-size="19">2</tspan></text>
<text x="912" y="517.2" text-anchor="middle">O</text>
<text x="985.5" y="552.3" text-anchor="middle">N</text>
<text x="985.5" y="525" text-anchor="middle">H</text>
<text x="1023.8" y="618" text-anchor="middle">O</text>
<text x="1097.5" y="575.3" text-anchor="middle">N</text>
<text x="1098.2" y="601.2" text-anchor="middle">H</text>
<text x="1131" y="516.6" text-anchor="middle">O</text>
<text x="1050.9" y="641" text-anchor="start">H<tspan dy="5" font-size="19">2</tspan><tspan dy="-5">NOC</tspan></text>
<text x="1206.5" y="552" text-anchor="middle">N</text>
<text x="1206.5" y="524.5" text-anchor="middle">H</text>
<text x="1244" y="618.2" text-anchor="middle">O</text>
<text x="1308.5" y="479.2" text-anchor="start">OH</text>
<text x="1318.6" y="575" text-anchor="middle">N</text>
<text x="1318.6" y="600.8" text-anchor="middle">H</text>
<text x="1355.7" y="519.5" text-anchor="middle">O</text>
<text x="1429" y="552" text-anchor="middle">N</text>
<text x="1429" y="524" text-anchor="middle">H</text>
<text x="1459.3" y="575.9" text-anchor="start">CH<tspan dy="5" font-size="19">3</tspan></text>
<text x="1458" y="621" text-anchor="start">CH<tspan dy="5" font-size="19">3</tspan></text>
<text x="1420.6" y="688" text-anchor="start">CH<tspan dy="5" font-size="19">3</tspan></text>
<text x="720.6" y="658.3" text-anchor="start">HO<tspan dy="5" font-size="19">2</tspan><tspan dy="-5">C</tspan></text>
<text x="734.2" y="773.3" text-anchor="start">HO</text>
<text x="903.3" y="773.3" text-anchor="start">OH</text>
<text x="940" y="751" text-anchor="start">OH</text>
</g>
<rect x="156.5" y="1910.3" width="2120.8" height="1462.9" fill="none" stroke="#000" stroke-width="5.2"/>
<path d="M368.6 3373.2 L368.6 3384M792.7 3373.2 L792.7 3384M1216.9 3373.2 L1216.9 3384M1641.1 3373.2 L1641.1 3384M2065.2 3373.2 L2065.2 3384M156.5 3373.2 L156.5 3378.5M580.7 3373.2 L580.7 3378.5M1004.8 3373.2 L1004.8 3378.5M1429 3373.2 L1429 3378.5M1853.1 3373.2 L1853.1 3378.5M2277.3 3373.2 L2277.3 3378.5" stroke="#000" stroke-width="4.5"/>
<g fill="none" stroke-width="5.6" stroke-linejoin="round" clip-path="url(#cb)">
<path d="M157 3279.7C171.8 3279.3 187.3 3280.1 201.5 3278.5C214.9 3277 227.3 3273.3 240.2 3270.7C253.1 3268.1 266.8 3266.2 278.9 3263C289.9 3260.1 300 3256.1 309.8 3252.7C318.8 3249.6 327.3 3248.1 335.6 3243.7C344.6 3238.9 355.2 3232 361.3 3224.3C366.7 3217.5 368.3 3209.5 371.6 3201.1C375.3 3191.6 378.9 3177.4 382 3170.2C383.8 3166.1 385.1 3164.5 387.1 3160.8C389.9 3155.6 393.7 3147.3 397.4 3141.9C400.6 3137.3 404 3134 407.7 3129.9C411.7 3125.4 416.8 3119.8 420.6 3116.1C423.4 3113.3 426.1 3112.4 428.4 3109.3C431.5 3105.2 434.1 3098.3 436.1 3092.9C437.9 3088 437.4 3083.7 440 3078.4C443.7 3070.7 452.2 3061.2 459.3 3052.6C467.1 3043.2 476.4 3033.7 485 3024.2C493.6 3014.8 503.1 3003.2 510.8 2995.9C516.3 2990.7 520.1 2987.7 525.8 2983.5C532.8 2978.3 541.8 2973.2 550 2967.5C558.9 2961.3 568.5 2951.9 577.3 2947.4C584.3 2943.8 590.9 2940.8 597.9 2941C605.4 2941.3 613.3 2945.5 621.1 2950C630.5 2955.5 639.5 2966.7 649.5 2973.2C659.3 2979.5 669.4 2983.8 680.4 2988.7C692.4 2994.1 706.1 2999 719 3004.1C731.9 3009.3 744.8 3014.6 757.7 3019.6C770.6 3024.5 784.8 3033.7 796.4 3033.8C805.9 3033.9 813.4 3027.7 822.2 3024.7C831.4 3021.6 841.9 3014 850.5 3015.7C859.1 3017.4 867 3029.5 873.7 3035C878.7 3039.1 882.2 3041.3 886.8 3045.6C892.7 3051.1 898.9 3058.9 905.8 3066.1C913.7 3074.3 921.9 3085.2 931.5 3091.9C940.8 3098.4 951.8 3104.7 962.5 3106C973.3 3107.3 984.8 3101.7 996 3099.6C1007.2 3097.4 1020.3 3096.8 1029.5 3093.1C1036.8 3090.2 1040.7 3084.6 1047.5 3081.5C1055.1 3078 1063.8 3076.5 1073.3 3073.8C1084.9 3070.5 1100.8 3068.7 1112 3063.5C1121.9 3058.9 1129.2 3051.9 1137.7 3045.5C1146.4 3039 1155.4 3031.5 1163.5 3024.8C1170.8 3018.7 1178.1 3013.6 1184.1 3006.8C1190.2 2999.9 1193.4 2986.9 1199.6 2983.6C1204.2 2981.2 1209.2 2983 1215 2983.6C1222.5 2984.4 1233.3 2987.4 1240.8 2988.8C1246.6 2989.9 1251.9 2989.4 1256.3 2991.3C1260.3 2993 1263 2996.1 1266.6 2999.1C1271 3002.8 1276 3006.3 1280.6 3012C1286.8 3019.8 1292.7 3032.6 1298.7 3042.9C1304.7 3053.2 1309.6 3065.8 1316.7 3073.8C1322.8 3080.6 1329.4 3084.8 1337.3 3089.3C1346.3 3094.4 1358.3 3098.2 1368.2 3102.2C1377.2 3105.9 1385.5 3108.7 1394 3112.5C1402.7 3116.4 1411.1 3121.7 1419.8 3125.4C1428.3 3129 1437.4 3132.7 1445.6 3134.4C1452.7 3135.8 1459.5 3137.1 1466.2 3135.7C1473.3 3134.3 1480.3 3130.1 1486.8 3125.4C1494.1 3120.1 1500.7 3111.4 1507.4 3104.7C1513.6 3098.5 1518.9 3091.5 1525.5 3086.7C1531.8 3082.2 1539 3076.6 1546.1 3076.4C1553.6 3076.2 1561.4 3084.6 1569.3 3086.7C1576.9 3088.8 1584.9 3090.1 1592.5 3089.3C1600.3 3088.5 1607.8 3084.2 1615.7 3081.5C1624.1 3078.6 1632.8 3074.4 1641.4 3072.5C1649.5 3070.7 1657.7 3068.7 1665.8 3070C1674.4 3071.4 1682.7 3076.7 1691.5 3081.5C1701.6 3087.1 1711.6 3096.6 1722.5 3102.2C1733.2 3107.7 1744.3 3111.6 1756 3115C1768.3 3118.6 1781.7 3120.4 1794.6 3122.8C1807.5 3125.2 1820.4 3128.8 1833.3 3129.2C1846.2 3129.6 1859.2 3127.5 1872 3125.4C1884.9 3123.2 1897.6 3118.2 1910.6 3116.3C1923.4 3114.4 1936.4 3114.4 1949.3 3113.8C1962.2 3113.2 1976.4 3113.8 1987.9 3112.5C1997.4 3111.4 2005 3108 2013.7 3107.3C2022.4 3106.6 2029.9 3108.1 2040 3108.6C2053.6 3109.2 2073.2 3111.7 2087.9 3110.6C2100.7 3109.6 2112.3 3106 2123.5 3103.5C2133.5 3101.3 2142.4 3100.6 2151.8 3096.5C2162.7 3091.8 2175 3084.1 2184.7 3075.3C2194.7 3066.2 2202.9 3054.5 2210.6 3042.4C2218.8 3029.5 2225.2 3014.6 2231.8 3000C2238.6 2984.9 2245.1 2968.8 2250.6 2953C2256 2937.4 2260.4 2921.4 2264.7 2905.9C2268.9 2890.9 2272.2 2876.1 2276 2861.2" stroke="#336699"/>
<path d="M157 3274.6C171.8 3273.7 187.2 3273.6 201.5 3272C214.9 3270.5 227.4 3268.4 240.2 3265.6C253.2 3262.8 266.9 3259.4 278.9 3255.3C289.9 3251.6 300.3 3248 309.8 3242.4C319.2 3236.8 328 3230.1 335.6 3221.8C343.6 3213 350.2 3201.6 356.2 3190.8C362.2 3180.1 366.6 3168.9 371.6 3157.3C376.9 3145 381.7 3133 387.1 3118.7C393.7 3101.3 400 3079.5 407.7 3060.3C415.4 3041.1 424.6 3021.7 433.5 3003.6C441.9 2986.5 450.7 2970.9 459.3 2954.6C467.9 2938.3 475.6 2919.7 485 2905.7C493 2893.7 503.2 2883 510.8 2874.7C516.3 2868.7 520.2 2865.3 525.8 2859.8C532.9 2852.8 542.6 2841.3 550 2836C555.1 2832.4 559 2831.6 564.4 2828.9C571.2 2825.5 580 2817.9 587.6 2817.3C594.6 2816.7 601.2 2819 608.2 2823.7C619.1 2831.1 629.9 2853.4 641.8 2865C652.4 2875.3 663 2882.8 675.3 2890.7C688.6 2899.3 705 2906.1 719 2914C732.4 2921.5 744.6 2930.3 757.7 2937C770.4 2943.5 784.7 2953.5 796.4 2953.9C805.8 2954.2 813.8 2947.8 822.2 2944.8C830.1 2942 838.5 2936.3 845.4 2936.6C851.1 2936.8 855.8 2939.5 860.8 2943.6C868 2949.6 874.6 2961.9 881.4 2973.2C889.7 2987 896.6 3007.4 905.8 3021C913.6 3032.6 922.1 3043.3 931.5 3050.6C939.5 3056.8 948.4 3061.4 957.3 3063.5C965.7 3065.5 974.7 3065.1 983.1 3063.5C991.9 3061.8 1000.4 3057.2 1008.9 3053.2C1017.6 3049.1 1026.1 3043.9 1034.6 3039C1043.2 3034 1051.7 3028.2 1060.4 3023.6C1068.9 3019.2 1077.8 3016.8 1086.2 3012C1095 3007 1103.7 3000.9 1112 2993.9C1120.9 2986.4 1129.5 2977.8 1137.7 2968.1C1146.7 2957.4 1155.2 2944.9 1163.5 2932.1C1172.4 2918.4 1180.4 2899.7 1189.3 2888.2C1196 2879.5 1201 2871.5 1209.9 2867.6C1220.1 2863.2 1238.5 2863.5 1248.6 2866.3C1256.1 2868.4 1261.5 2872.4 1266.6 2877.9C1272.5 2884.3 1276 2893.5 1280.6 2903.7C1286.7 2917.3 1292.3 2937.5 1298.7 2952.7C1304.4 2966.5 1309.6 2980.5 1316.7 2991.3C1322.8 3000.5 1329.1 3007.8 1337.3 3014.5C1346.1 3021.7 1358.6 3026 1368.2 3032.6C1377.4 3038.9 1385.4 3046.3 1394 3053.2C1402.6 3060.1 1411 3067.7 1419.8 3073.8C1428.2 3079.6 1437.2 3086.7 1445.6 3089.3C1452.6 3091.5 1459.6 3092.4 1466.2 3090.6C1473.4 3088.6 1480.4 3082.6 1486.8 3076.4C1494.4 3069 1500.8 3057.3 1507.4 3048C1513.7 3039.2 1518.3 3027.9 1525.5 3022.3C1531.5 3017.6 1539.1 3014 1546.1 3014.5C1553.7 3015.1 1561.4 3024.1 1569.3 3027.4C1576.9 3030.5 1584.8 3034.3 1592.5 3033.9C1600.3 3033.5 1608 3028.8 1615.7 3024.8C1624.3 3020.4 1632.6 3011.8 1641.4 3008.1C1649.3 3004.8 1658.3 3002.9 1665.8 3002.9C1672.3 3002.9 1677.7 3004 1683.8 3006.8C1691.4 3010.4 1698.5 3019.1 1707 3024.8C1716.4 3031.1 1726.9 3038.2 1737.9 3042.9C1749.2 3047.7 1762.2 3049.7 1774 3053.2C1785.4 3056.6 1796.7 3061.1 1807.5 3063.5C1817.3 3065.7 1826.2 3067.5 1835.9 3067.4C1846 3067.2 1856.6 3064.5 1866.8 3062.2C1877.2 3059.8 1886.7 3055.5 1897.7 3053.2C1909.8 3050.6 1923.5 3049.7 1936.4 3048C1949.3 3046.3 1962.2 3044.6 1975.1 3042.9C1988 3041.2 2002 3038.5 2013.7 3037.7C2023.3 3037.1 2031.1 3036.9 2040 3037.7C2049.2 3038.5 2058.2 3041.5 2067.8 3042.7C2078.1 3043.9 2089.6 3044.4 2100 3044.7C2109.7 3045 2118.4 3046 2128.2 3044.7C2139.4 3043.2 2152.6 3040.4 2163.5 3035.3C2174.5 3030.2 2185.1 3022.8 2194 3014C2203.3 3004.9 2210.6 2993 2217.6 2981.2C2224.9 2968.8 2230.7 2955.2 2236.5 2941.2C2242.6 2926.3 2248.3 2910.2 2253 2894C2257.8 2877.3 2260.8 2859.2 2264.7 2842.4C2268.4 2826.3 2272.2 2811 2276 2795.3" stroke="#cc9900"/>
<path d="M157 3286C167.6 3285.2 177.7 3285.1 188.7 3283.6C201 3281.9 213.6 3279.3 227.3 3275.9C243.3 3271.9 264 3265.7 278.9 3260.4C290.6 3256.2 300.4 3253.4 309.8 3247.5C319.4 3241.5 328 3233.1 335.6 3224.3C343.5 3215.2 349.7 3206.4 356.2 3193.4C365.6 3174.5 373.2 3143.5 382 3119.6C390.4 3096.7 398.8 3073.9 407.7 3052.6C416 3032.8 424.7 3014.3 433.5 2995.9C441.9 2978.2 450.6 2961.2 459.3 2944.3C467.8 2927.7 475.8 2909.8 485 2895.4C493.1 2882.8 503.3 2871.2 510.8 2861.9C516.4 2855 520 2850.4 525.8 2844.3C532.8 2836.9 542.9 2827.6 550 2821C555.4 2816 558.6 2812.1 564.4 2808.2C571.5 2803.4 581.6 2795.4 590.2 2795.4C598.8 2795.4 607.5 2801.6 616 2808.2C627.3 2817 638 2836.2 649.5 2846.9C659.5 2856.2 669.6 2861.6 680.4 2870C692.6 2879.5 706.1 2890.7 719 2901C731.9 2911.3 744.5 2922.6 757.7 2932C770.4 2941 784.5 2955 796.4 2956.4C805.6 2957.4 813.8 2950.3 822.2 2947.4C830.1 2944.7 838.5 2939.7 845.4 2939.7C851.1 2939.7 855.9 2941.2 860.8 2944.8C868.1 2950.1 874.6 2962.5 881.4 2973.2C889.6 2986 896.8 3004.5 905.8 3017.1C913.7 3028.1 922.2 3038.7 931.5 3045.5C939.5 3051.3 948.5 3055.1 957.3 3057C965.7 3058.8 974.7 3058.8 983.1 3057C991.9 3055.1 1000.4 3049.9 1008.9 3045.5C1017.6 3041 1026 3035.2 1034.6 3030C1043.2 3024.8 1051.8 3019.7 1060.4 3014.5C1069 3009.4 1077.6 3004.2 1086.2 2999.1C1094.8 2993.9 1103.7 2989.8 1112 2983.6C1120.9 2977 1129.6 2969.5 1137.7 2960.4C1146.9 2950.1 1155.5 2937.9 1163.5 2924.3C1172.8 2908.4 1179.3 2884 1189.3 2870.2C1197 2859.5 1204.6 2849.9 1215 2845.7C1225.9 2841.3 1244.6 2842.8 1253.7 2845.7C1259.5 2847.5 1262.6 2850.4 1266.6 2854.7C1271.8 2860.3 1276 2868.6 1280.6 2877.9C1286.8 2890.5 1292.6 2909.1 1298.7 2924.3C1304.6 2939.1 1309.6 2955.4 1316.7 2968.1C1322.8 2979 1328.7 2989.2 1337.3 2996.5C1345.9 3003.8 1358.5 3006.7 1368.2 3012C1377.3 3017 1385.7 3021.3 1394 3027.4C1402.9 3034 1410.9 3043.8 1419.8 3050.6C1428.2 3057 1437.1 3064.3 1445.6 3067.4C1452.6 3069.9 1459.6 3071.6 1466.2 3070C1473.4 3068.2 1480.5 3062.2 1486.8 3055.8C1494.5 3048 1500.8 3034.9 1507.4 3024.8C1513.7 3015.2 1518.5 3004 1525.5 2996.5C1531.6 2989.9 1538.8 2981.8 1546.1 2981C1553.4 2980.2 1561.5 2988.3 1569.3 2991.3C1577 2994.3 1584.8 2999.1 1592.5 2999.1C1600.2 2999.1 1608 2994.9 1615.7 2991.3C1624.3 2987.4 1632.9 2979.4 1641.4 2975.9C1648.7 2972.9 1656.3 2970.5 1663.2 2970.7C1669.5 2970.8 1675.1 2972.8 1681.2 2975.9C1688.8 2979.8 1695.8 2987.9 1704.4 2993.9C1714.4 3000.8 1726.2 3009.3 1737.9 3014.5C1749.4 3019.6 1762.2 3021.5 1774 3024.8C1785.4 3028 1797 3032 1807.5 3033.9C1816.6 3035.6 1824.6 3037.1 1833.3 3036.4C1842.6 3035.6 1851.7 3032.1 1861.6 3028.7C1873 3024.7 1885.3 3017.3 1897.7 3013.2C1910.2 3009.1 1923.5 3007 1936.4 3004.2C1949.3 3001.4 1962.2 2999.3 1975.1 2996.5C1988 2993.7 2002 2989.1 2013.7 2987.5C2023.2 2986.2 2029.9 2986.3 2040 2986.2C2053.6 2986 2075 2988.2 2087.9 2987.4C2096.7 2986.8 2102.3 2985.6 2110 2984C2118.7 2982.1 2128.6 2980.3 2137.6 2976.5C2147.2 2972.5 2157.4 2966.9 2165.9 2960C2174.7 2952.8 2182.3 2944.1 2189.4 2934C2197.4 2922.5 2204.4 2908.1 2210.6 2894C2217.1 2879.2 2221.9 2862.7 2227 2847C2232.1 2831.4 2236.9 2815.7 2241.2 2800C2245.5 2784.4 2249.1 2768.7 2253 2753C2256.9 2737.3 2260.9 2722 2264.7 2705.9C2268.6 2689 2272.2 2671.3 2276 2654" stroke="#3cc36e"/>
<path d="M411.6 3373C413.7 3348.3 416 3322.8 418 3299C419.9 3276.8 421.2 3257 423.2 3234.6C425.4 3210 427.4 3182.7 430.9 3157.3C434.3 3132.4 440 3108.4 443.8 3083.5C447.7 3058.1 450.5 3033.8 454.1 3006.2C458.2 2974.3 462.3 2937.4 467 2903C471.7 2868.6 477.4 2832.2 482.5 2800C487 2771.6 492.4 2743.9 495.7 2720C498.4 2700.6 499 2683.5 501.5 2667.3C503.7 2653.4 506.4 2641.5 509.3 2628.6C512.2 2615.7 515.7 2602.9 518.9 2590C522.1 2577.1 525.4 2564.2 528.6 2551.3C531.8 2538.4 535.4 2525.5 538.3 2512.6C541.2 2499.8 543.4 2486.9 546 2474C548.6 2461.1 550.8 2448.2 553.7 2435.3C556.6 2422.4 560.2 2409.6 563.4 2396.7C566.6 2383.8 569.3 2367.7 573 2358C575.4 2351.6 577.9 2346.5 581 2343C583.3 2340.4 586 2337.7 588.5 2337.7C591 2337.7 593.7 2340.4 596 2343C599.1 2346.5 601.4 2351.7 604 2358C608 2367.8 612.4 2383.7 615.6 2396.7C618.8 2409.5 621 2422.4 623.3 2435.3C625.5 2448.2 627.2 2461.1 629.1 2474C631 2486.9 633 2499.7 634.9 2512.6C636.8 2525.5 638.8 2538.4 640.7 2551.3C642.6 2564.2 644.3 2577.1 646.5 2590C648.8 2602.9 651.6 2615.7 654.2 2628.6C656.8 2641.5 659.3 2653.4 662 2667.3C665.1 2683.5 668.1 2704.8 671.6 2720C674.3 2731.9 675.8 2740.3 680.4 2751.5C686.3 2765.8 696.1 2782.5 706.2 2798C717.3 2815.1 733.6 2832.7 744.8 2849.5C754.7 2864.4 763.1 2881.3 770.6 2893.3C776 2901.9 780.2 2909.1 785 2915C788.8 2919.7 792.7 2926.3 796.6 2926.5C800.3 2926.7 804.9 2921.4 808 2917C812.1 2911.2 814.2 2901.9 817 2893.3C820.3 2883.2 823.5 2872 826 2860C828.8 2846.4 829.6 2828.9 832.5 2816C834.9 2805.5 837.2 2794.8 841 2788C843.7 2783.2 847.3 2777.8 850.5 2777.3C853 2776.9 856 2779.5 858 2782C860.8 2785.5 861.8 2791.7 863.4 2798C865.6 2806.8 867.3 2819.5 869 2830C870.7 2840.2 872.3 2848.6 873.7 2860C875.6 2874.8 876.9 2894.3 878.6 2911.5C880.3 2928.7 882 2945.8 883.7 2963C885.4 2980.2 887.1 2995.8 888.9 3014.6C891 3037.2 893.3 3066.5 895.5 3089.3C897.4 3108.5 899.3 3125.8 901.3 3142.5C903.1 3157.5 904.8 3170.8 906.9 3185C909 3199.2 911.4 3213.4 914 3227.6C916.6 3241.8 919.2 3256 922.5 3270.1C925.8 3284.3 929.7 3299.2 933.9 3312.6C937.8 3325 942.3 3339.3 946.6 3348C949.4 3353.6 951.6 3357.8 955 3361C957.9 3363.7 961.5 3366.8 965 3366.5C969.4 3366.1 974.6 3360.2 979.2 3355.1C985.5 3348.1 992 3337.5 997.6 3326.8C1004.1 3314.3 1009.5 3298.6 1014.7 3284.3C1019.9 3270.2 1024.1 3255.9 1028.8 3241.7C1033.5 3227.5 1038.7 3213.4 1043 3199.2C1047.2 3185.1 1050.5 3170.9 1054.3 3156.7C1058.1 3142.5 1062.2 3129 1065.7 3114.2C1069.5 3098.1 1071.6 3081.3 1075.9 3063.5C1080.8 3043.2 1088.3 3020.6 1093.9 2999.1C1099.5 2977.7 1104.4 2954.9 1109.4 2934.6C1113.9 2916.5 1118.4 2900.3 1122.3 2883.1C1126.2 2866 1129.6 2846.6 1132.6 2831.5C1135 2819.7 1136.6 2813.3 1138.9 2800C1142.9 2777.2 1149.1 2736.3 1153.1 2706.6C1156.7 2679.6 1159.3 2655.1 1162.1 2629.3C1164.9 2603.5 1167.2 2577.8 1169.8 2552C1172.4 2526.2 1174.8 2500.4 1177.6 2474.6C1180.4 2448.8 1183.6 2423.1 1186.6 2397.3C1189.6 2371.5 1193 2343.6 1195.6 2320C1197.8 2300 1198.7 2280.5 1201.5 2264.6C1203.6 2252.3 1205.9 2243 1209.3 2232.4C1212.8 2221.5 1217.4 2211.4 1222.2 2200.2C1227.6 2187.8 1234.8 2171.4 1240.2 2161.5C1243.7 2155 1246.7 2149.5 1250 2146C1252.3 2143.6 1254.7 2141 1257 2141C1259.3 2141 1262 2143 1264 2146C1268.1 2152.1 1270 2168.5 1272.4 2180.9C1275.1 2194.9 1277 2208.2 1278.9 2226C1281.7 2251.6 1283.2 2290.2 1285.8 2320C1288.2 2347 1291.2 2371.5 1293.6 2397.3C1296 2423.1 1297.9 2448.8 1300 2474.6C1302.1 2500.4 1304.2 2526.2 1306.4 2552C1308.5 2577.8 1310.5 2603.5 1312.9 2629.3C1315.3 2655.1 1317.8 2681.2 1320.6 2706.6C1323.4 2731.4 1325.4 2756.4 1329.6 2780C1333.6 2802.3 1339.1 2824.3 1345 2844.4C1350.4 2862.7 1357.5 2878.7 1363.1 2896C1368.7 2913.1 1374.3 2930.2 1378.6 2947.5C1382.9 2964.6 1385.6 2980.9 1388.9 2999.1C1392.5 3019.3 1395.8 3042 1399.2 3063.5C1402.6 3085 1405.8 3115.1 1409.5 3127.9C1411.2 3133.7 1413.2 3134.7 1414.7 3140C1417.4 3149.1 1418.6 3165.8 1420.9 3178.7C1423.2 3191.6 1425.7 3205.2 1428.6 3217.3C1431.2 3228.2 1434 3238.4 1437.1 3248.3C1440 3257.7 1443.1 3268 1446.4 3275.3C1448.8 3280.6 1451.2 3285.1 1454.1 3288.5C1456.5 3291.2 1459.3 3294.7 1461.9 3294.7C1464.5 3294.7 1467.3 3291.4 1469.6 3288.5C1472.7 3284.5 1475.1 3277.9 1477.3 3271.5C1480 3263.6 1481.7 3254 1483.5 3244.4C1485.6 3233.6 1487.1 3221.5 1488.9 3209.6C1490.8 3197 1492.6 3183.1 1494.4 3170.9C1496 3160 1497.6 3149.8 1499 3140C1500.2 3131.2 1501 3125.9 1502.3 3115C1504.9 3094.3 1509.4 3052.3 1512.6 3024.8C1515.3 3001.5 1517.7 2981.9 1520.3 2960.4C1522.9 2938.9 1524.4 2914.6 1528 2896C1530.8 2881.4 1533.8 2867.2 1538.4 2857.3C1541.7 2850.2 1546 2840.8 1550 2840.6C1553.8 2840.4 1558 2848.4 1561.6 2854.7C1567.3 2864.5 1570.9 2883.8 1577 2896C1582.3 2906.6 1588.9 2923.9 1595 2924.3C1600.1 2924.7 1605.8 2913.8 1610.5 2906.3C1616.5 2896.7 1621.1 2883.3 1626 2870.2C1631.5 2855.2 1635.9 2832.1 1641.4 2821.2C1644.5 2815.1 1647.4 2811.5 1651 2808C1654.3 2804.8 1658.1 2800.3 1661.9 2800.6C1666.4 2800.9 1672.1 2807.2 1676.1 2813.5C1682.2 2823.3 1684.9 2842.1 1689 2857.3C1693.5 2873.8 1697.6 2891.7 1701.9 2908.9C1706.2 2926.1 1710.1 2944.5 1714.7 2960.4C1718.7 2974.3 1722.9 2987.7 1727.6 2999.1C1731.6 3008.7 1735.3 3017.6 1740.5 3024.8C1745 3031 1750.5 3035.2 1756 3040.3C1761.7 3045.6 1768.6 3049.7 1774 3055.8C1779.9 3062.4 1784.5 3070.8 1789.5 3079C1794.9 3087.9 1799.5 3098.8 1805 3107.3C1809.9 3114.9 1814.9 3123.6 1820.4 3127.9C1824.5 3131 1828.9 3133.5 1833.3 3133.1C1838.4 3132.6 1844.1 3127.7 1848.8 3122.8C1854.7 3116.6 1859 3106.2 1864.2 3097C1870.1 3086.6 1876.2 3074.4 1882.3 3063.5C1888.2 3052.9 1894.1 3042.3 1900.3 3032.6C1906.1 3023.5 1911.8 3013.5 1918.4 3006.8C1924 3001.2 1930 2997.7 1936.4 2993.9C1942.9 2990 1950.1 2986.6 1957 2983.6C1963.8 2980.6 1971.3 2979.9 1977.6 2975.9C1984.3 2971.6 1988.9 2963.1 1995.7 2957.8C2002.7 2952.3 2012.2 2944 2018.9 2943.7C2023.8 2943.5 2028.3 2947.1 2031.8 2950.1C2035.3 2953.2 2037 2957.5 2040 2962C2043.8 2967.9 2048.1 2973.6 2052.7 2982.4C2060.2 2997 2069.2 3024.9 2077.8 3042.7C2085 3057.5 2091.5 3071.8 2100 3082.4C2107.1 3091.2 2115.9 3095.9 2123.5 3103.5C2131.5 3111.5 2139 3123.4 2147 3129.4C2153.2 3134.1 2160 3139.5 2165.9 3138.8C2171.8 3138.1 2177.5 3131.1 2182.4 3124.7C2189 3116.1 2193.4 3100.5 2198.8 3089.4C2203.6 3079.4 2207.9 3071.3 2213 3061.2C2218.8 3049.5 2225.7 3036.5 2231.8 3023.5C2238.2 3009.9 2245.2 2995.9 2250.6 2981.2C2256.2 2966.1 2260.6 2949.8 2264.7 2934C2268.8 2918.4 2271.8 2902.7 2275.3 2887" stroke="#b98080"/>
</g>
<text transform="translate(297.42 3443.6) scale(0.91 1)" font-family="'Liberation Sans', Arial, sans-serif" font-size="71.25">1700</text>
<text transform="translate(721.58 3443.6) scale(0.91 1)" font-family="'Liberation Sans', Arial, sans-serif" font-size="71.25">1600</text>
<text transform="translate(1145.74 3443.6) scale(0.91 1)" font-family="'Liberation Sans', Arial, sans-serif" font-size="71.25">1500</text>
<text transform="translate(1569.9 3443.6) scale(0.91 1)" font-family="'Liberation Sans', Arial, sans-serif" font-size="71.25">1400</text>
<text transform="translate(1994.06 3443.6) scale(0.91 1)" font-family="'Liberation Sans', Arial, sans-serif" font-size="71.25">1300</text>
<clipPath id="ct"><rect x="0" y="3400" width="2357" height="187"/></clipPath>
<g clip-path="url(#ct)"><text transform="translate(736.8 3575.1) scale(0.92 1)" font-family="'Liberation Sans', Arial, sans-serif" font-size="110.98" font-weight="bold">Wavenumber (cm</text><text transform="translate(1579.66 3530.18) scale(1.01 1)" font-family="'Liberation Sans', Arial, sans-serif" font-size="72.73" font-weight="bold">−</text><text transform="translate(1625.74 3531.9) scale(0.63 1)" font-family="'Liberation Sans', Arial, sans-serif" font-size="75.49" font-weight="bold">1</text><text transform="translate(1663.48 3575.04) scale(0.85 1)" font-family="'Liberation Sans', Arial, sans-serif" font-size="104.88" font-weight="bold">)</text></g>
<text transform="translate(97 2948.24) rotate(-90) scale(0.98 1)" font-family="'Liberation Sans', Arial, sans-serif" font-size="107.78" font-weight="bold">Absorbance</text>
<text transform="translate(159.39 2038.1) scale(1.05 1)" font-family="'Liberation Serif', 'Times New Roman', serif" font-size="121.43" font-weight="bold">(b)</text>
<path d="M1727 1970.4 L1844 1970.4" stroke="#3cc36e" stroke-width="5.6"/>
<text transform="translate(1855.75 1988.1) scale(0.94 1)" font-family="'Liberation Sans', Arial, sans-serif" font-size="56.15" font-weight="bold" fill="#3cc36e">MSM@Van_VA</text>
<path d="M1727 2038 L1844 2038" stroke="#cc9900" stroke-width="5.6"/>
<text transform="translate(1855.78 2055.4) scale(0.96 1)" font-family="'Liberation Sans', Arial, sans-serif" font-size="54.55" font-weight="bold" fill="#cc9900">MSM@Van_SE</text>
<path d="M1727 2107.6 L1844 2107.6" stroke="#336699" stroke-width="5.6"/>
<text transform="translate(1855.76 2123.4) scale(1 1)" font-family="'Liberation Sans', Arial, sans-serif" font-size="52.22" font-weight="bold" fill="#336699">MSM@Van_PM</text>
<path d="M1727 2175.2 L1844 2175.2" stroke="#b98080" stroke-width="5.6"/>
<text transform="translate(1857.62 2193.6) scale(0.91 1)" font-family="'Liberation Sans', Arial, sans-serif" font-size="56.15" font-weight="bold" fill="#b98080">Vancomycin</text>
</svg>
</body></html>
